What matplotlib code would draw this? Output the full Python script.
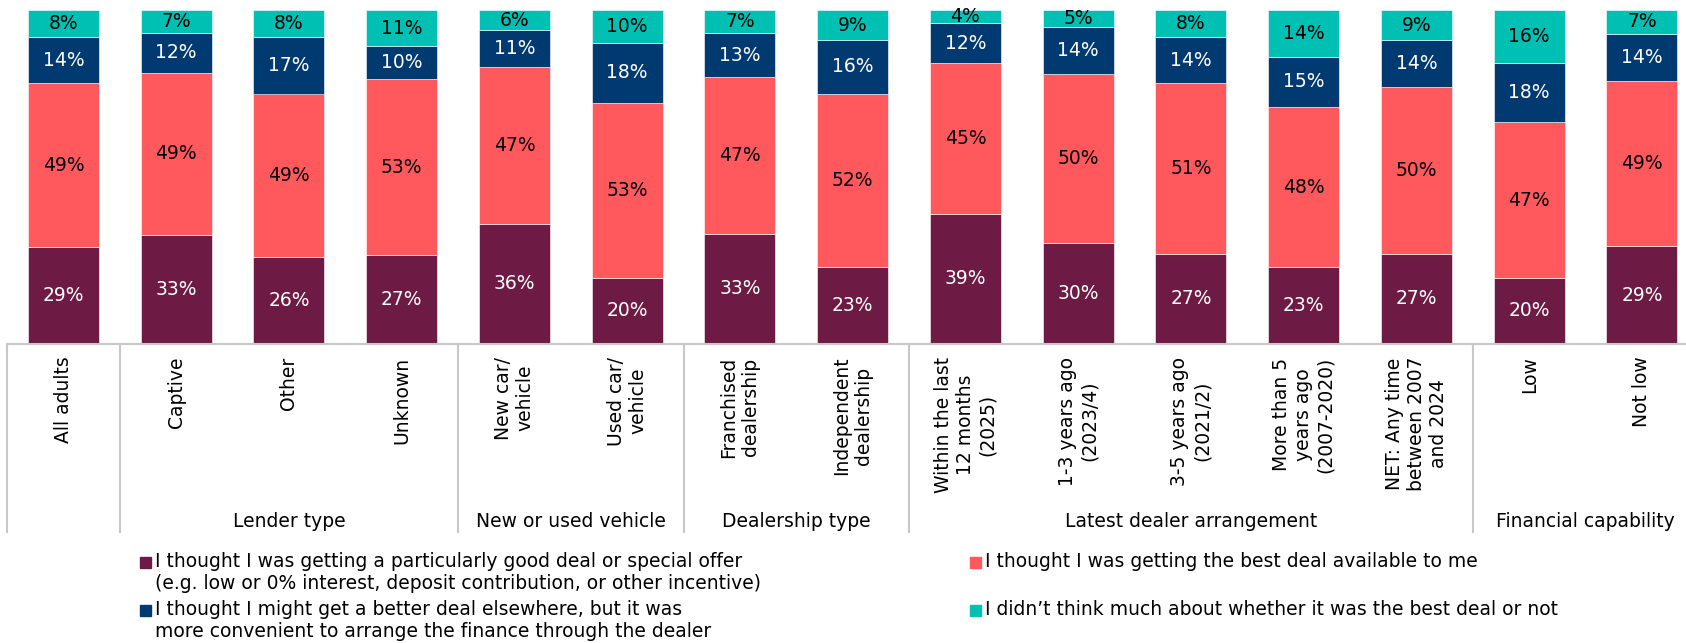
import matplotlib
matplotlib.use("Agg")
import matplotlib.pyplot as plt
from matplotlib.patches import Rectangle
import numpy as np

categories = [
    "All adults", "Captive", "Other", "Unknown",
    "New car/\nvehicle", "Used car/\nvehicle",
    "Franchised\ndealership", "Independent\ndealership",
    "Within the last\n12 months\n(2025)", "1-3 years ago\n(2023/4)",
    "3-5 years ago\n(2021/2)", "More than 5\nyears ago\n(2007-2020)",
    "NET: Any time\nbetween 2007\nand 2024",
    "Low", "Not low",
]
group_names = ["", "Lender type", "New or used vehicle", "Dealership type",
               "Latest dealer arrangement", "Financial capability"]
group_sizes = [1, 3, 2, 2, 5, 2]

special_offer = [29, 33, 26, 27, 36, 20, 33, 23, 39, 30, 27, 23, 27, 20, 29]
best_available = [49, 49, 49, 53, 47, 53, 47, 52, 45, 50, 51, 48, 50, 47, 49]
more_convenient = [14, 12, 17, 10, 11, 18, 13, 16, 12, 14, 14, 15, 14, 18, 14]
didnt_think = [8, 7, 8, 11, 6, 10, 7, 9, 4, 5, 8, 14, 9, 16, 7]

series_labels = [
    "I thought I was getting a particularly good deal or special offer\n"
    "(e.g. low or 0% interest, deposit contribution, or other incentive)",
    "I thought I was getting the best deal available to me",
    "I thought I might get a better deal elsewhere, but it was\n"
    "more convenient to arrange the finance through the dealer",
    "I didn\u2019t think much about whether it was the best deal or not",
]
colors = ["#6D1A45", "#FF595E", "#003A70", "#00BFB3"]
text_colors = ["white", "black", "white", "black"]
FS = 13.5

W, H = 1686, 643
fig = plt.figure(figsize=(W / 100, H / 100), dpi=100)
ax = fig.add_axes([7 / W, 1 - 344 / H, 1679 / W, 334 / H])

series = [special_offer, best_available, more_convenient, didnt_think]
x = np.arange(len(categories))
totals = np.sum(np.array(series, dtype=float), axis=0)

# 100% stacked: every column scaled to its own total
bottom = np.zeros(len(categories))
for vals, col, tcol in zip(series, colors, text_colors):
    vals = np.array(vals, dtype=float)
    h = vals / totals * 100
    ax.bar(x, h, bottom=bottom, width=0.63, color=col, edgecolor="white", linewidth=0.4)
    for xi, b, hh, v in zip(x, bottom, h, vals):
        ax.text(xi, b + hh / 2, f"{int(v)}%", ha="center", va="center",
                color=tcol, fontsize=FS)
    bottom += h

ax.set_xlim(-0.5, -0.5 + 1679 / 112.75)
ax.set_ylim(0, 100)
for s in ["top", "right", "left"]:
    ax.spines[s].set_visible(False)
ax.spines["bottom"].set_color("#C8C8C8")
ax.spines["bottom"].set_linewidth(1.5)
ax.set_yticks([])

ax.set_xticks(x)
ax.set_xticklabels(categories, rotation=90, ha="center", va="top",
                   multialignment="center", fontsize=FS)
ax.tick_params(axis="x", length=0, pad=9)

# group separators and group names under the category labels
trans = ax.get_xaxis_transform()
start = -0.5
ax.plot([start, start], [0, -0.563], transform=trans, color="#C8C8C8", lw=1.5, clip_on=False)
for name, n in zip(group_names, group_sizes):
    end = start + n
    ax.plot([end, end], [0, -0.563], transform=trans, color="#C8C8C8", lw=1.5, clip_on=False)
    if name:
        ax.text((start + end) / 2, -0.532, name, transform=trans,
                ha="center", va="center", fontsize=FS)
    start = end

# legend, two columns
legend_pos = [(140, 557), (970, 557), (140, 605), (970, 605)]
for (px, py), col, lab in zip(legend_pos, colors, series_labels):
    fig.add_artist(Rectangle((px / W, 1 - (py + 11) / H), 11 / W, 11 / H,
                             transform=fig.transFigure, color=col))
    fig.text((px + 15) / W, 1 - (py - 5) / H, lab, ha="left", va="top",
             fontsize=FS, linespacing=1.2)

fig.savefig("out.png", dpi=100)
